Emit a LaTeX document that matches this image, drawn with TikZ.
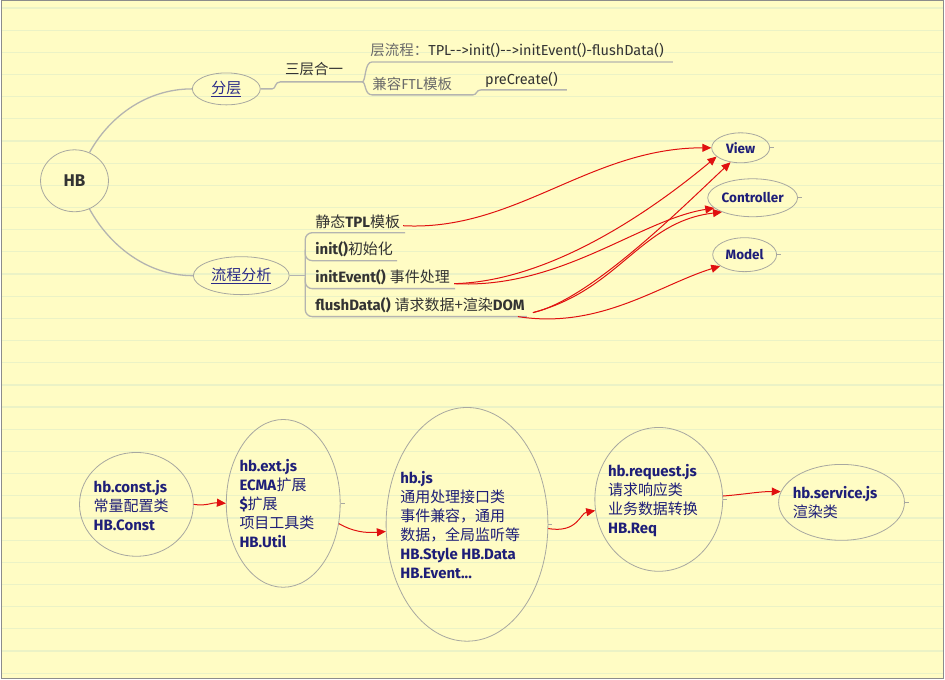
\documentclass[tikz,border=0pt]{standalone}
\usepackage{fontspec}
\setmainfont{Fira Sans}
\newfontfamily\cjk{Noto Sans CJK SC}
\usetikzlibrary{shapes.geometric,arrows.meta}
\definecolor{bgy}{HTML}{FFFCC4}
\definecolor{rulec}{HTML}{EBF2C6}
\definecolor{framec}{HTML}{8C8C8C}
\definecolor{glin}{HTML}{B4B4B0}
\definecolor{ovalc}{HTML}{A8A8A0}
\definecolor{navy}{HTML}{1E1E78}
\definecolor{lnk}{HTML}{2A2A88}
\definecolor{txtd}{HTML}{333333}
\definecolor{txtg}{HTML}{6A6A6A}
\definecolor{arrc}{HTML}{E01010}
\newcommand\zht[1]{{\cjk #1}}
\begin{document}
\begin{tikzpicture}[x=1pt,y=-1pt,
  oval/.style={ellipse, draw=ovalc, line width=0.8pt, inner sep=0pt},
  gline/.style={draw=glin, line width=1.3pt},
  redarr/.style={draw=arrc, line width=1pt, -{Triangle[length=9pt,width=8pt]}},
  stub/.style={draw=ovalc, line width=0.7pt},
  lbl/.style={inner sep=0pt, font=\fontsize{14.5}{16}\selectfont},
  lbb/.style={inner sep=0pt, font=\fontsize{15}{16}\selectfont},
  blk/.style={inner sep=0pt, anchor=north west, align=left, text=navy, font=\fontsize{15}{19}\selectfont},
  mvc/.style={oval, text=navy, font=\fontsize{13.5}{15}\selectfont\bfseries},
]
\fill[bgy] (0,0) rectangle (945,680);
\foreach \k in {0,...,30} \draw[rulec, line width=1.2pt] (0,{8+22.2*\k}) -- (945,{8+22.2*\k});
\draw[framec, line width=1pt] (0.5,0.5) rectangle (944.5,679.5);
\useasboundingbox (0,0) rectangle (945,680);

% mind map nodes
\node[oval, minimum width=68pt, minimum height=62pt, text=txtd, font=\fontsize{17}{17}\selectfont\bfseries] (hb) at (74,181) {HB};
\node[oval, minimum width=68pt, minimum height=32pt, text=lnk, font=\fontsize{15}{15}\selectfont] (fc) at (226,89) {\zht{\underline{分层}}};
\node[oval, minimum width=96pt, minimum height=38pt, text=lnk, font=\fontsize{15}{15}\selectfont] (lc) at (241,276) {\zht{\underline{流程分析}}};

\draw[gline] (hb.62) .. controls (108,118) and (145,89) .. (fc.west);
\draw[gline] (hb.-62) .. controls (108,244) and (145,276) .. (lc.west);

% top branch
\node[lbl, text=txtd] (sc) at (314,69) {\zht{三层合一}};
\node[lbl, anchor=west, text=txtg] (lcf) at (370,50) {\zht{层流程：}\textcolor{txtd}{TPL-{}->init()-{}->initEvent()-flushData()}};
\node[lbl, anchor=west, text=txtg] (jr) at (372,84) {\zht{兼容}FTL\zht{模板}};
\node[lbl, anchor=west, text=txtd] (pc) at (485,80) {preCreate()};

\coordinate (br1) at (362,82);
\draw[gline] (fc.east) -- (272,89) .. controls (276,89) and (274,82) .. (280,82) -- (br1);
\draw[gline] (br1) .. controls (366,82) and (364,62) .. (372,62) -- (673,62);
\draw[gline] (br1) .. controls (366,82) and (364,95) .. (372,95) -- (473,95) .. controls (477,95) and (476,90) .. (481,90) -- (567,90);

% lower branch
\node[lbb, anchor=west, text=txtd] (t1) at (315,222) {\zht{静态}\textbf{TPL}\zht{模板}};
\node[lbb, anchor=west, text=txtd] (t2) at (315,250) {\textbf{init()}\zht{初始化}};
\node[lbb, anchor=west, text=txtd] (t3) at (315,278) {\textbf{initEvent()} \zht{事件处理}};
\node[lbb, anchor=west, text=txtd] (t4) at (315,306) {\textbf{flushData()} \zht{请求数据+渲染}\textbf{DOM}};

\draw[gline] (lc.east) -- (305,276);
\draw[gline, rounded corners=7pt] (405,233) -- (305,233) -- (305,317) -- (527,317);
\draw[gline, rounded corners=7pt] (305,250) -- (305,261) -- (397,261);
\draw[gline, rounded corners=7pt] (305,278) -- (305,289) -- (455,289);

% MVC nodes
\node[mvc, minimum width=58pt, minimum height=30pt] (view) at (741,148) {View};
\node[mvc, minimum width=90pt, minimum height=38pt] (ctrl) at (753,198) {Controller};
\node[mvc, minimum width=64pt, minimum height=34pt] (model) at (745,255) {Model};

\coordinate (s1) at (403,226);
\coordinate (s3) at (454,284);
\coordinate (s4a) at (533,313);
\coordinate (s4b) at (518,317);

\draw[redarr] (s1) .. controls (515,232) and (590,148) .. (view.west);
\draw[redarr] (s3) .. controls (540,282) and (635,225) .. (view.200);
\draw[redarr] (s3) .. controls (560,290) and (640,220) .. (ctrl.195);
\draw[redarr] (s4a) .. controls (590,300) and (680,210) .. (view.235);
\draw[redarr] (s4a) .. controls (620,290) and (640,222) .. (ctrl.205);
\draw[redarr] (s4b) .. controls (600,330) and (660,285) .. (model.205);

% bottom row
\node[oval, minimum width=114pt, minimum height=104pt] (cst) at (136,505) {};
\node[oval, minimum width=114pt, minimum height=168pt] (ext) at (283,504) {};
\node[oval, minimum width=162pt, minimum height=234pt] (hbjs) at (467,525) {};
\node[oval, minimum width=128pt, minimum height=144pt] (req) at (659,500) {};
\node[oval, minimum width=126pt, minimum height=76pt] (svc) at (842,503) {};

\node[blk] (cstt) at (93,481) {\textbf{hb.const.js}\\\zht{常量配置类}\\\textbf{HB.Const}};
\node[blk] (extt) at (239,460) {\textbf{hb.ext.js}\\\textbf{ECMA}\zht{扩展}\\\textbf{\$}\zht{扩展}\\\zht{项目工具类}\\\textbf{HB.Util}};
\node[blk] (hbjst) at (400,472) {\textbf{hb.js}\\\zht{通用处理接口类}\\\zht{事件兼容，通用}\\\zht{数据，全局监听等}\\\textbf{HB.Style HB.Data}\\\textbf{HB.Event...}};
\node[blk] (reqt) at (608,465) {\textbf{hb.request.js}\\\zht{请求响应类}\\\zht{业务数据转换}\\\textbf{HB.Req}};
\node[blk] (svct) at (793,487) {\textbf{hb.service.js}\\\zht{渲染类}};

\draw[redarr] (cst.east) .. controls (206,507) and (212,503) .. (ext.west);
\draw[redarr] (ext.-20) .. controls (352,532) and (365,534) .. (hbjs.185);
\draw[redarr] (hbjs.-3) .. controls (578,534) and (580,514) .. (req.190);
\draw[redarr] (req.3) .. controls (745,495) and (760,492) .. (svc.170);

% stubs
\foreach \n in {view,ctrl,model,ext,hbjs,req,svc}
  \draw[stub] (\n.east) -- ++(4,0);
\end{tikzpicture}
\end{document}
